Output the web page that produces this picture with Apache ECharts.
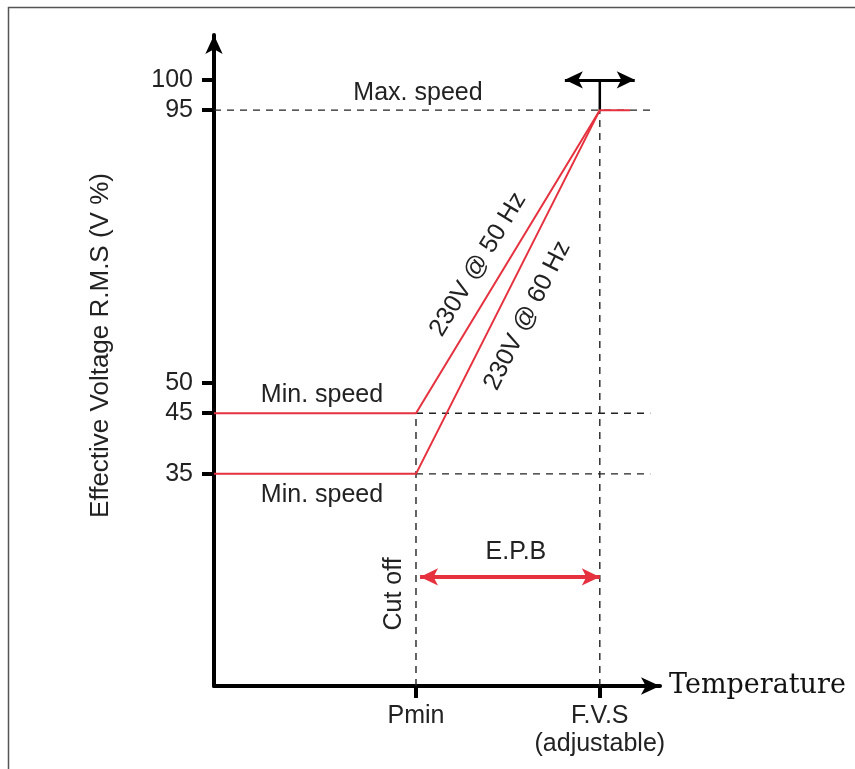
<!DOCTYPE html>
<html>
<head>
<meta charset="utf-8">
<script src="https://cdn.jsdelivr.net/npm/echarts@6/dist/echarts.min.js"></script>
<style>
html,body{margin:0;padding:0;background:#fff;}
#chart{width:855px;height:769px;}
</style>
</head>
<body>
<div id="chart"></div>
<script>
// ---- data ----
const PMIN = 10;          // Pmin position on temperature axis
const FVS = 19.1;         // F.V.S position
const X_END = 21.6;       // end of reference dashed lines
const RED_END = 20.6;     // end of max-speed plateau
const X_MAX = 22.08;
const Y_MAX = 107.4;
const MIN_50 = 45;
const MIN_60 = 35;
const MAX_V = 95;
const TOP_V = 100;
const EPB_Y = 18;
const TOP_ARROW_HALF = 1.73;

const xTickValues = [PMIN, FVS];
const xTickLabels = ['Pmin', 'F.V.S\n(adjustable)'];
const yTickValues = [35, 45, 50, 95, 100];

const series50Hz = [[0, MIN_50], [PMIN, MIN_50], [FVS, MAX_V], [RED_END, MAX_V]];
const series60Hz = [[0, MIN_60], [PMIN, MIN_60], [FVS, MAX_V]];

const dashedLines = [
  [[0, MAX_V], [X_END, MAX_V]],
  [[PMIN, MIN_50], [X_END, MIN_50]],
  [[PMIN, MIN_60], [X_END, MIN_60]],
  [[PMIN, 0], [PMIN, MIN_50]],
  [[FVS, 0], [FVS, MAX_V]]
];

const RED = '#e5323e';
const TXT = '#222';
const SANS = '"Liberation Sans", Arial, sans-serif';
const FS = 25;

const chart = echarts.init(document.getElementById('chart'));

const series = [];
dashedLines.forEach(seg => {
  series.push({
    type: 'line', data: seg, symbol: 'none', silent: true, z: 2,
    lineStyle: { color: '#222', width: 1.4, type: [7, 6] }
  });
});
series.push({
  type: 'line', name: '230V @ 50 Hz', data: series50Hz, symbol: 'none', z: 5,
  lineStyle: { color: RED, width: 2 }
});
series.push({
  type: 'line', name: '230V @ 60 Hz', data: series60Hz, symbol: 'none', z: 5,
  lineStyle: { color: RED, width: 2 }
});
// black stem above F.V.S with double arrow
series.push({
  type: 'line', data: [[FVS, MAX_V], [FVS, TOP_V]], symbol: 'none', z: 4,
  lineStyle: { color: '#000', width: 2.5 },
  markLine: {
    silent: true, symbol: ['arrow', 'arrow'], symbolSize: [13, 18],
    label: { show: false },
    lineStyle: { color: '#000', width: 3, type: 'solid' },
    data: [[{ coord: [FVS - TOP_ARROW_HALF, TOP_V] }, { coord: [FVS + TOP_ARROW_HALF, TOP_V] }]]
  }
});
// E.P.B red double arrow
series.push({
  type: 'line', data: [], symbol: 'none',
  markLine: {
    silent: true, symbol: ['arrow', 'arrow'], symbolSize: [13, 18],
    label: { show: false },
    lineStyle: { color: RED, width: 4, type: 'solid' },
    data: [[{ coord: [PMIN + 0.2, EPB_Y] }, { coord: [FVS, EPB_Y] }]]
  }
});

chart.setOption({
  animation: false,
  backgroundColor: '#fff',
  grid: { left: 214, right: 195, top: 35, bottom: 83, containLabel: false },
  xAxis: {
    type: 'value', min: 0, max: X_MAX,
    name: 'Temperature', nameLocation: 'end', nameGap: 9,
    nameTextStyle: { fontFamily: '"DejaVu Serif", serif', fontSize: 27, color: '#111' },
    splitLine: { show: false },
    axisLine: { show: true, symbol: ['none', 'arrow'], symbolSize: [13, 19], lineStyle: { color: '#000', width: 4 } },
    axisTick: { show: true, customValues: xTickValues, length: 12, lineStyle: { color: '#000', width: 4 } },
    axisLabel: {
      show: true, customValues: xTickValues, margin: 16,
      fontFamily: SANS, fontSize: FS, color: TXT, lineHeight: 28,
      formatter: v => {
        const i = xTickValues.findIndex(t => Math.abs(t - v) < 1e-6);
        return i >= 0 ? xTickLabels[i] : '';
      }
    }
  },
  yAxis: {
    type: 'value', min: 0, max: Y_MAX,
    name: 'Effective Voltage R.M.S (V %)', nameLocation: 'middle', nameGap: 100, nameRotate: 90,
    nameTextStyle: { fontFamily: SANS, fontSize: 26, color: TXT, padding: [0, 0, 0, 30] },
    splitLine: { show: false },
    axisLine: { show: true, symbol: ['none', 'arrow'], symbolSize: [13, 19], lineStyle: { color: '#000', width: 4 } },
    axisTick: { show: true, customValues: yTickValues, length: 12, lineStyle: { color: '#000', width: 4 } },
    axisLabel: { show: true, customValues: yTickValues, margin: 21, fontFamily: SANS, fontSize: FS, color: TXT }
  },
  series: series
});

function px(x, y) { return chart.convertToPixel({ gridIndex: 0 }, [x, y]); }
function txt(text, p, dx, dy, rot) {
  return {
    type: 'text', x: p[0] + dx, y: p[1] + dy, rotation: rot || 0, silent: true, z: 10,
    style: { text: text, fill: TXT, font: FS + 'px ' + SANS, align: 'center', verticalAlign: 'middle',
             textAlign: 'center', textVerticalAlign: 'middle' }
  };
}
function diagLabel(text, a, b, t, d) {
  const p1 = px(a[0], a[1]), p2 = px(b[0], b[1]);
  const dx = p2[0] - p1[0], dy = p2[1] - p1[1];
  const len = Math.sqrt(dx * dx + dy * dy);
  const ang = Math.atan2(-dy, dx);
  const nx = dy / len, ny = -dx / len;
  const cx = p1[0] + dx * t + nx * d, cy = p1[1] + dy * t + ny * d;
  return txt(text, [cx, cy], 0, 0, ang);
}

const graphics = [
  { type: 'rect', silent: true, z: -10, shape: { x: 8.5, y: 7.5, width: 900, height: 800 },
    style: { fill: 'none', stroke: '#555', lineWidth: 1.5 } },
  txt('Max. speed', px(PMIN, MAX_V), 2, -17),
  txt('Min. speed', px(PMIN / 2, MIN_50), 7, -18),
  txt('Min. speed', px(PMIN / 2, MIN_60), 7, 21),
  txt('E.P.B', px((PMIN + FVS) / 2, EPB_Y), 8, -25),
  txt('Cut off', px(PMIN, EPB_Y), -22, 17, Math.PI / 2),
  diagLabel('230V @ 50 Hz', [PMIN, MIN_50], [FVS, MAX_V], 0.45, 24),
  diagLabel('230V @ 60 Hz', [PMIN, MIN_60], [FVS, MAX_V], 0.47, -28)
];
chart.setOption({ graphic: { elements: graphics } });
</script>
</body>
</html>
